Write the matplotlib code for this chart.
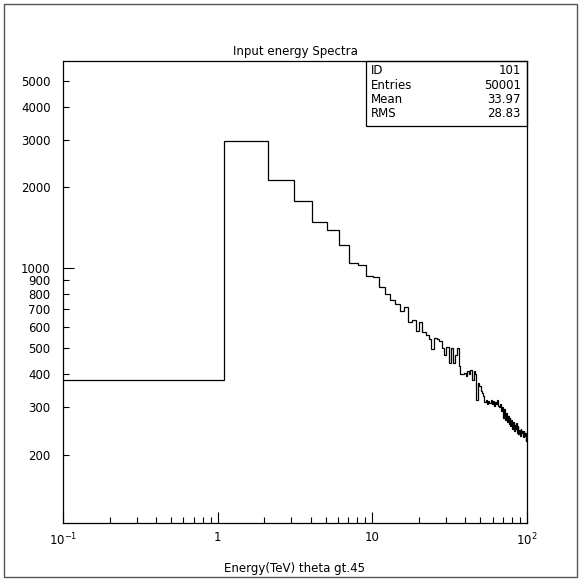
import numpy as np
import matplotlib
matplotlib.use("Agg")
import matplotlib.pyplot as plt
from matplotlib.patches import Rectangle

# histogram definition (PAW style, 100 bins)
n_bins = 100
x_lo, x_hi = 0.1, 100.1
counts = [
    380, 2970, 2130, 1780, 1480, 1385, 1210, 1040, 1020, 930,
    920, 845, 800, 755, 730, 690, 712, 625, 635, 580,
    625, 575, 560, 540, 495, 545, 540, 530, 500, 470,
    505, 440, 500, 440, 470, 500, 430, 400, 400, 405,
    395, 410, 400, 415, 380, 410, 400, 320, 370, 360,
    345, 340, 330, 315, 320, 310, 318, 312, 320, 310,
    318, 305, 315, 310, 320, 305, 300, 310, 290, 300,
    275, 295, 270, 285, 265, 280, 260, 275, 255, 270,
    250, 265, 245, 258, 250, 262, 240, 255, 238, 248,
    235, 250, 240, 245, 232, 245, 235, 240, 225, 230,
]

stats_names = ["ID", "Entries", "Mean", "RMS"]
stats_values = ["101", "50001", "33.97", "28.83"]

y_major = [1000]
y_minor = [200, 300, 400, 500, 600, 700, 800, 900, 2000, 3000, 4000, 5000]
x_major = [0.1, 1, 10, 100]
x_major_labels = ["$10^{-1}$", "1", "10", "$10^{2}$"]

plt.rcParams["font.family"] = ["DejaVu Sans"]
plt.rcParams["font.size"] = 8.5

fig = plt.figure(figsize=(5.81, 5.81), dpi=100)
W = 581.0
ax = fig.add_axes([63 / W, 1 - 523 / W, 464 / W, 462 / W])

edges = np.linspace(x_lo, x_hi, n_bins + 1)
ax.stairs(counts, edges, baseline=None, color="black", lw=0.9)

ax.set_xscale("log")
ax.set_yscale("log")
ax.set_xlim(0.1, 100)
ax.set_ylim(111, 5920)

# ticks, PAW-like: inward, left/bottom only
ax.set_yticks(y_major, labels=[str(v) for v in y_major])
ax.set_yticks(y_minor, labels=[str(v) for v in y_minor], minor=True)
ax.set_xticks(x_major, labels=x_major_labels)
minor_x = [m * d for d in (0.1, 1, 10) for m in range(2, 10)]
ax.set_xticks(minor_x, minor=True)
ax.xaxis.set_minor_formatter(plt.NullFormatter())

ax.tick_params(which="both", direction="in", top=False, right=False, width=0.8)
ax.tick_params(which="major", length=8)
ax.tick_params(which="minor", length=4)
ax.tick_params(axis="y", which="both", pad=9)
ax.tick_params(axis="x", which="both", pad=6)
for s in ax.spines.values():
    s.set_linewidth(0.9)

ax.set_title("Input energy Spectra", pad=4, fontsize=8.5)
ax.set_xlabel("Energy(TeV) theta gt.45", labelpad=10)

# statistics box
bx0, by0 = (366 - 63) / 464, 1 - (126 - 61) / 462
ax.add_patch(Rectangle((bx0, by0), 1 - bx0, 1 - by0, transform=ax.transAxes,
                       fill=False, ec="black", lw=0.9, clip_on=False))
row_px = [70, 85.5, 99.5, 113.5]
for name, val, ypx in zip(stats_names, stats_values, row_px):
    yf = 1 - (ypx - 61) / 462
    ax.text((371 - 63) / 464, yf, name, transform=ax.transAxes, va="center", ha="left")
    ax.text((521 - 63) / 464, yf, val, transform=ax.transAxes, va="center", ha="right")

# outer page border
fig.add_artist(Rectangle((4 / W, 4 / W), 573 / W, 573 / W, transform=fig.transFigure,
                         fill=False, ec="#555555", lw=1))

fig.savefig("out.png", dpi=100)
